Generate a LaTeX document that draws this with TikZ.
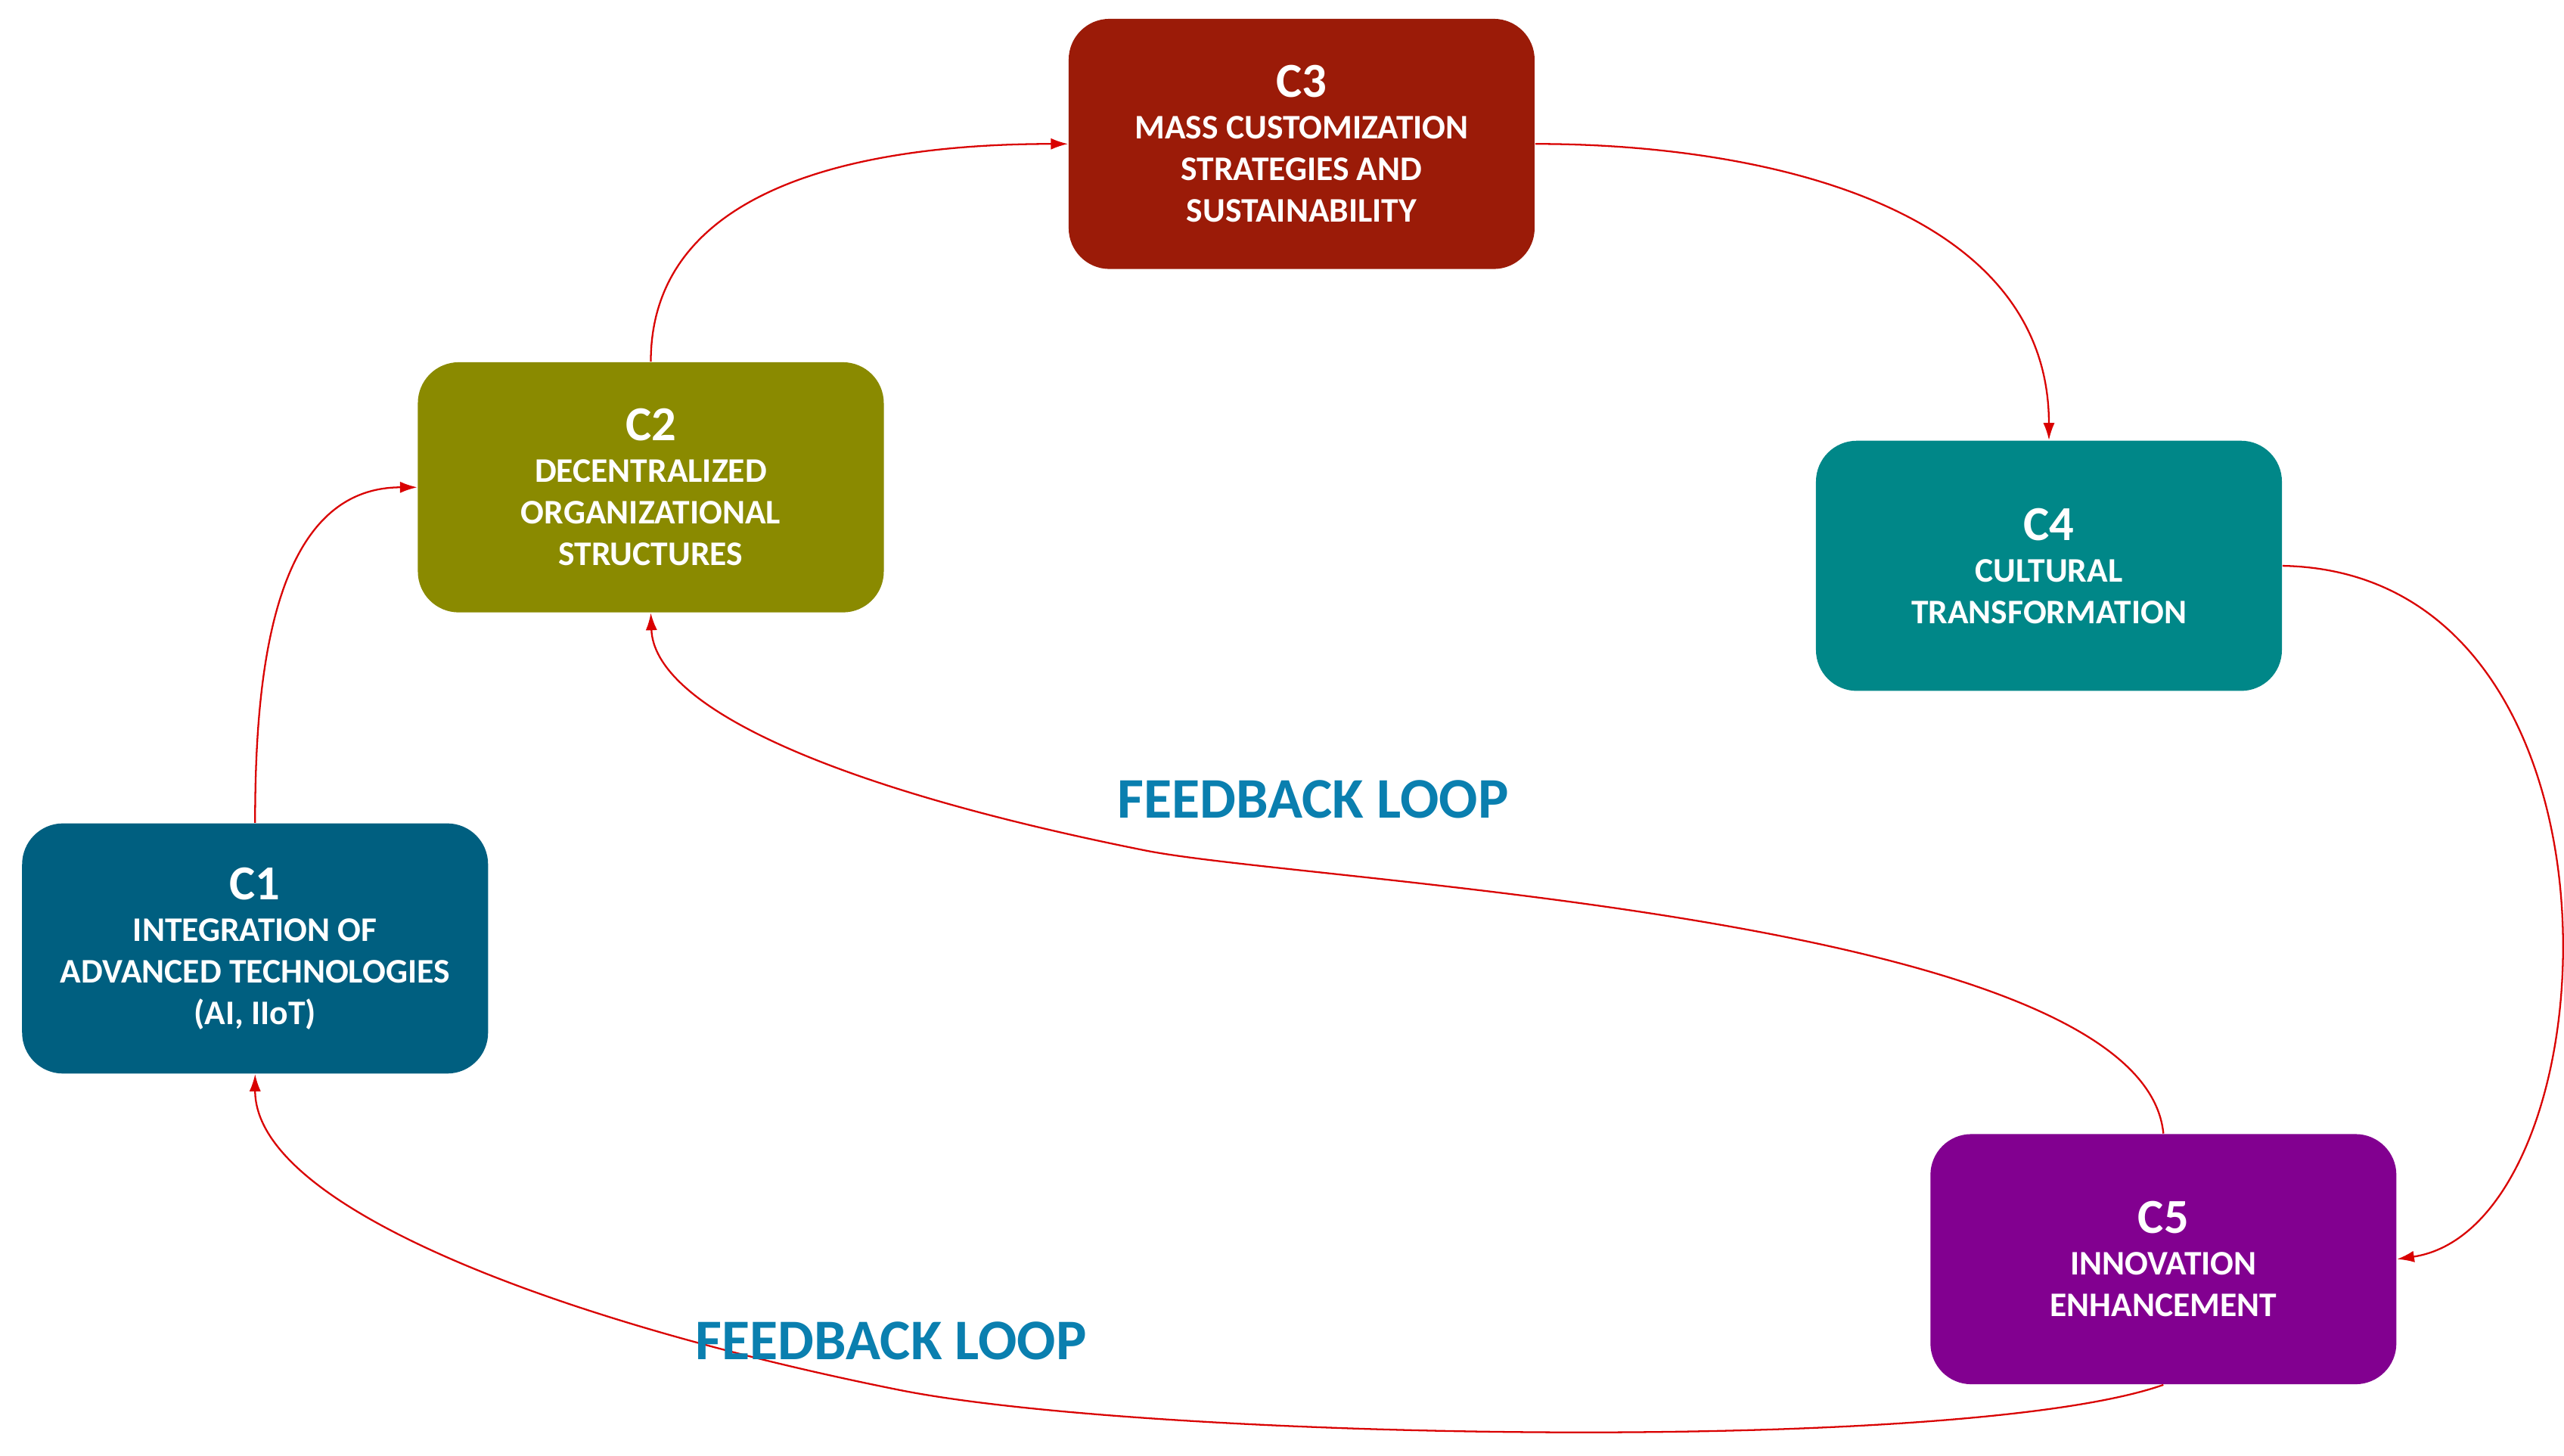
\documentclass[tikz,border=0pt]{standalone}
\usepackage{fontspec}
\setmainfont{Carlito}
\usetikzlibrary{arrows.meta}
\newcommand\myTtl[1]{{\fontsize{17}{19}\selectfont #1}}
\begin{document}
\begin{tikzpicture}[x=0.02cm,y=-0.02cm,
  box/.style={rounded corners=0.5cm,minimum width=5.7cm,minimum height=3.06cm,text=white,align=center,font=\bfseries\fontsize{12}{14.5}\selectfont,inner sep=2pt},
  arr/.style={draw=red!85!black,line width=0.6pt,-{Latex[length=6pt,width=4pt]}},
  fb/.style={font=\bfseries\fontsize{20}{22}\selectfont}]
\useasboundingbox (0,0) rectangle (1568,890);
\definecolor{cA}{HTML}{005F80}\definecolor{cB}{HTML}{8A8A00}\definecolor{cC}{HTML}{9B1B08}
\definecolor{cD}{HTML}{008788}\definecolor{cE}{HTML}{820090}\definecolor{fbc}{HTML}{0A7FAF}
\node[box,fill=cC] (c3) at (796,88) {\myTtl{C3}\\MASS CUSTOMIZATION\\STRATEGIES AND\\SUSTAINABILITY};
\node[box,fill=cB] (c2) at (398,298) {\myTtl{C2}\\DECENTRALIZED\\ORGANIZATIONAL\\STRUCTURES};
\node[box,fill=cD] (c4) at (1253,346) {\myTtl{C4}\\CULTURAL\\TRANSFORMATION};
\node[box,fill=cA] (c1) at (156,580) {\myTtl{C1}\\INTEGRATION OF\\ADVANCED TECHNOLOGIES\\(AI, IIoT)};
\node[box,fill=cE] (c5) at (1323,770) {\myTtl{C5}\\INNOVATION\\ENHANCEMENT};
\draw[arr] (c1.north) to[out=90,in=180] (c2.west);
\draw[arr] (c2.north) to[out=90,in=180] (c3.west);
\draw[arr] (c3.east) to[out=0,in=90] (c4.north);
\draw[arr] (c4.east) .. controls (1620,350) and (1600,750) .. (c5.east);
\draw[arr] (c5.north) .. controls (1310,560) and (800,540) .. (700,520) .. controls (500,480) and (400,430) .. (c2.south);
\draw[arr] (c5.south) .. controls (1200,890) and (700,880) .. (550,850) .. controls (350,810) and (156,740) .. (c1.south);
\node[fb,text=fbc] (f1) at (803,489) {FEEDBACK LOOP};
\node[fb,text=fbc] (f2) at (545,820) {FEEDBACK LOOP};
\end{tikzpicture}
\end{document}
